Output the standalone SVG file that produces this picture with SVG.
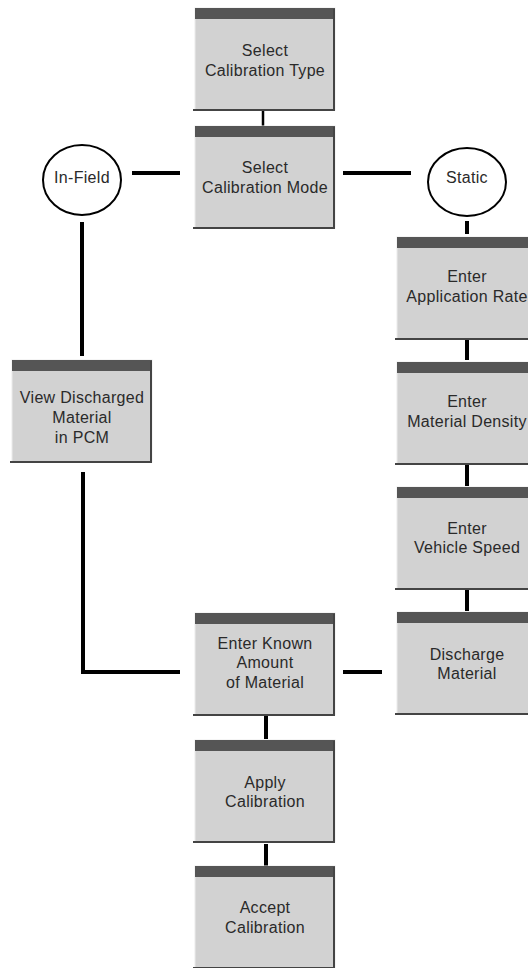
<svg xmlns="http://www.w3.org/2000/svg" width="528" height="968" viewBox="0 0 528 968">
<style>
.body{fill:#d2d2d2;stroke:#ececec;stroke-width:1}
.hdr{fill:#555555}
.sh{stroke:#444444;stroke-width:2;fill:none}
.t{font-family:"Liberation Sans",Arial,sans-serif;font-size:16px;fill:#2a2a2a;text-anchor:middle;letter-spacing:0.3px}
.c{stroke:#000;stroke-width:4;fill:none}
.circ{fill:#fff;stroke:#000;stroke-width:2}
</style>
<defs>
<g id="box">
<rect class="body" x="0" y="0" width="140" height="102"/>
<rect class="hdr" x="0" y="0" width="140" height="11"/>
<path class="sh" d="M139,1 V102 M-2,102 H140"/>
</g>
</defs>
<rect width="528" height="968" fill="#fff"/>
<g id="connectors">
<line class="c" x1="263" y1="110" x2="263" y2="127" style="stroke-width:2.5"/>
<line class="c" x1="132" y1="173" x2="180" y2="173"/>
<line class="c" x1="343" y1="173" x2="411" y2="173"/>
<line class="c" x1="82" y1="222" x2="82" y2="356"/>
<line class="c" x1="467" y1="221" x2="467" y2="234"/>
<line class="c" x1="467" y1="338" x2="467" y2="360"/>
<line class="c" x1="467" y1="463" x2="467" y2="486"/>
<line class="c" x1="467" y1="589" x2="467" y2="611"/>
<polyline class="c" points="83,472 83,672 180,672"/>
<line class="c" x1="343" y1="672" x2="382" y2="672"/>
<line class="c" x1="266" y1="716" x2="266" y2="739"/>
<line class="c" x1="266" y1="844" x2="266" y2="866"/>
</g>
<g id="n-type"><use href="#box" x="195" y="8"/><text class="t" x="265" y="56">Select</text><text class="t" x="265" y="76">Calibration Type</text></g>
<g id="n-mode"><use href="#box" x="195" y="126"/><text class="t" x="265" y="173">Select</text><text class="t" x="265" y="193">Calibration Mode</text></g>
<g id="n-infield"><ellipse class="circ" cx="82" cy="180" rx="39" ry="35"/><text class="t" x="82" y="183">In-Field</text></g>
<g id="n-static"><ellipse class="circ" cx="467" cy="182" rx="39" ry="34"/><text class="t" x="467" y="183">Static</text></g>
<g id="n-view"><use href="#box" x="12" y="360"/><text class="t" x="82" y="403">View Discharged</text><text class="t" x="82" y="423">Material</text><text class="t" x="82" y="443">in PCM</text></g>
<g id="n-rate"><use href="#box" x="397" y="237"/><text class="t" x="467" y="282">Enter</text><text class="t" x="467" y="302">Application Rate</text></g>
<g id="n-density"><use href="#box" x="397" y="362"/><text class="t" x="467" y="407">Enter</text><text class="t" x="467" y="427">Material Density</text></g>
<g id="n-speed"><use href="#box" x="397" y="487"/><text class="t" x="467" y="534">Enter</text><text class="t" x="467" y="553">Vehicle Speed</text></g>
<g id="n-discharge"><use href="#box" x="397" y="612"/><text class="t" x="467" y="660">Discharge</text><text class="t" x="467" y="679">Material</text></g>
<g id="n-known"><use href="#box" x="195" y="613"/><text class="t" x="265" y="649">Enter Known</text><text class="t" x="265" y="668">Amount</text><text class="t" x="265" y="688">of Material</text></g>
<g id="n-apply"><use href="#box" x="195" y="740"/><text class="t" x="265" y="788">Apply</text><text class="t" x="265" y="807">Calibration</text></g>
<g id="n-accept"><use href="#box" x="195" y="866"/><text class="t" x="265" y="913">Accept</text><text class="t" x="265" y="933">Calibration</text></g>
</svg>
